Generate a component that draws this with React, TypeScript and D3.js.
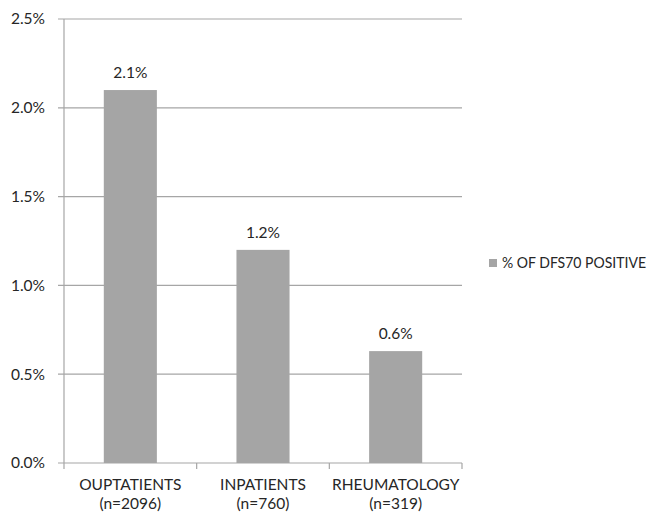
import React from "react";
import * as d3 from "d3";

const categories = ["OUPTATIENTS", "INPATIENTS", "RHEUMATOLOGY"];
const sampleSizes = ["(n=2096)", "(n=760)", "(n=319)"];
const values = [2.1, 1.2, 0.63];
const valueLabels = ["2.1%", "1.2%", "0.6%"];
const yTicks = [0, 0.5, 1.0, 1.5, 2.0, 2.5];
const seriesName = "% OF DFS70 POSITIVE";

const W = 650;
const H = 514;
const left = 64;
const right = 462;
const top = 19;
const bottom = 463;
const FONT = "Lato, 'Open Sans', sans-serif";
const TEXT = "#262626";
const GRID = "#a6a6a6";
const BAR = "#a5a5a5";

export default function App() {
  const x = d3
    .scaleBand<string>()
    .domain(categories)
    .range([left, right])
    .paddingInner(0.6)
    .paddingOuter(0.3);
  const y = d3.scaleLinear().domain([0, 2.5]).range([bottom, top]);
  const step = (right - left) / categories.length;

  return (
    <svg
      width={W}
      height={H}
      style={{ position: "absolute", left: 0, top: 0, background: "#fff" }}
      fontFamily={FONT}
    >
      <rect x={0} y={0} width={W} height={H} fill="#fff" />
      {yTicks.map((t) => (
        <g key={t}>
          <line
            x1={left - 6}
            x2={right}
            y1={y(t)}
            y2={y(t)}
            stroke={GRID}
            strokeWidth={1.2}
          />
          <text
            x={left - 19}
            y={y(t)}
            dy="0.35em"
            textAnchor="end"
            fontSize={15.5}
            fill={TEXT}
          >
            {d3.format(".1f")(t) + "%"}
          </text>
        </g>
      ))}
      <line x1={left} x2={left} y1={top} y2={bottom} stroke={GRID} strokeWidth={1.2} />
      {d3.range(categories.length + 1).map((i) => (
        <line
          key={i}
          x1={left + i * step}
          x2={left + i * step}
          y1={bottom}
          y2={bottom + 6}
          stroke={GRID}
          strokeWidth={1.2}
        />
      ))}
      {categories.map((c, i) => (
        <g key={c}>
          <rect
            x={x(c)!}
            y={y(values[i])}
            width={x.bandwidth()}
            height={bottom - y(values[i])}
            fill={BAR}
          />
          <text
            x={x(c)! + x.bandwidth() / 2}
            y={y(values[i]) - 12}
            textAnchor="middle"
            fontSize={15.5}
            fill={TEXT}
          >
            {valueLabels[i]}
          </text>
          <text
            x={x(c)! + x.bandwidth() / 2}
            y={490}
            textAnchor="middle"
            fontSize={15.5}
            fill={TEXT}
          >
            {c}
          </text>
          <text
            x={x(c)! + x.bandwidth() / 2}
            y={509}
            textAnchor="middle"
            fontSize={15.5}
            fill={TEXT}
          >
            {sampleSizes[i]}
          </text>
        </g>
      ))}
      <rect x={489} y={259} width={8} height={8} fill={BAR} />
      <text
        x={502}
        y={263}
        dy="0.35em"
        fontSize={14.5}
        fill={TEXT}
        textLength={144}
        lengthAdjust="spacingAndGlyphs"
      >
        {seriesName}
      </text>
    </svg>
  );
}
